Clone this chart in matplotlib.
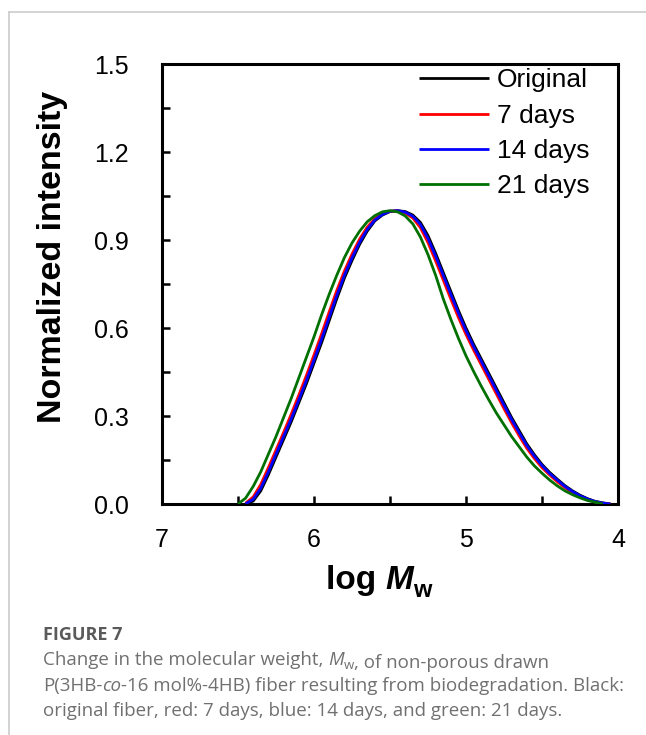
import numpy as np
import matplotlib
matplotlib.use('Agg')
from matplotlib import pyplot as plt
from matplotlib.lines import Line2D
from matplotlib.ticker import MultipleLocator

# log Mw grid (shared by all four curves)
log_mw = [6.50, 6.45, 6.40, 6.35, 6.30, 6.25, 6.20, 6.15, 6.10, 6.05,
          6.00, 5.95, 5.90, 5.85, 5.80, 5.75, 5.70, 5.65, 5.60, 5.55,
          5.50, 5.45, 5.40, 5.35, 5.30, 5.25, 5.20, 5.15, 5.10, 5.05,
          5.00, 4.95, 4.90, 4.85, 4.80, 4.75, 4.70, 4.65, 4.60, 4.55,
          4.50, 4.45, 4.40, 4.35, 4.30, 4.25, 4.20, 4.15, 4.10, 4.05,
          4.00]

nan = np.nan
original = [nan, 0.0, 0.010, 0.045, 0.100, 0.160, 0.220, 0.280, 0.345, 0.410,
            0.480, 0.550, 0.625, 0.700, 0.770, 0.830, 0.885, 0.930, 0.965, 0.985,
            0.997, 1.000, 0.997, 0.985, 0.960, 0.915, 0.855, 0.790, 0.725, 0.660,
            0.600, 0.545, 0.495, 0.445, 0.395, 0.345, 0.295, 0.250, 0.205, 0.168,
            0.135, 0.108, 0.085, 0.063, 0.045, 0.030, 0.018, 0.009, 0.004, 0.0,
            nan]
days_7 = [nan, 0.003, 0.024, 0.067, 0.124, 0.184, 0.244, 0.306, 0.371, 0.438,
          0.508, 0.580, 0.655, 0.728, 0.794, 0.852, 0.903, 0.944, 0.973, 0.990,
          0.998, 0.999, 0.992, 0.975, 0.942, 0.891, 0.829, 0.764, 0.699, 0.636,
          0.578, 0.525, 0.475, 0.425, 0.375, 0.325, 0.277, 0.232, 0.190, 0.155,
          0.124, 0.099, 0.076, 0.056, 0.039, 0.025, 0.014, 0.007, 0.002, 0.0,
          nan]
days_14 = [nan, 0.001, 0.016, 0.054, 0.110, 0.170, 0.230, 0.290, 0.355, 0.421,
           0.491, 0.562, 0.637, 0.711, 0.780, 0.839, 0.892, 0.936, 0.968, 0.987,
           0.998, 1.000, 0.995, 0.981, 0.953, 0.905, 0.845, 0.780, 0.715, 0.651,
           0.591, 0.537, 0.487, 0.437, 0.387, 0.337, 0.288, 0.243, 0.199, 0.163,
           0.131, 0.104, 0.082, 0.060, 0.043, 0.028, 0.017, 0.008, 0.003, 0.0,
           nan]
days_21 = [0.0, 0.020, 0.060, 0.110, 0.170, 0.230, 0.295, 0.360, 0.430, 0.500,
           0.570, 0.645, 0.715, 0.780, 0.840, 0.890, 0.930, 0.962, 0.983, 0.996,
           1.000, 0.996, 0.982, 0.955, 0.910, 0.850, 0.780, 0.700, 0.630, 0.565,
           0.505, 0.452, 0.402, 0.355, 0.310, 0.270, 0.230, 0.195, 0.160, 0.130,
           0.105, 0.082, 0.062, 0.045, 0.032, 0.021, 0.012, 0.006, 0.0, nan,
           nan]

labels = ['Original', '7 days', '14 days', '21 days']
colors = ['#000000', '#ff0000', '#0000ff', '#007000']

plt.rcParams['font.family'] = ['Liberation Sans', 'DejaVu Sans']

fig = plt.figure(figsize=(6.46, 7.35), dpi=100)
ax = fig.add_axes([162 / 646, 231 / 735, 456 / 646, 440 / 735])

for i, series in enumerate([original, days_7, days_14, days_21]):
    ax.plot(log_mw, series, color=colors[i], lw=2.0, label=labels[i],
            zorder=2 + i, solid_capstyle='butt')

ax.set_xlim(7, 4)
ax.set_ylim(0, 1.5)
ax.xaxis.set_minor_locator(MultipleLocator(0.5))
ax.yaxis.set_minor_locator(MultipleLocator(0.15))
ax.set_yticks([0.0, 0.3, 0.6, 0.9, 1.2, 1.5])
ax.set_yticklabels(['0.0', '0.3', '0.6', '0.9', '1.2', '1.5'])
ax.set_xticks([7, 6, 5, 4])
ax.set_xticklabels(['7', '6', '5', '4'])

ax.tick_params(which='both', direction='in', length=6, width=1.8,
               top=False, right=False, labelsize=18, colors='black')
ax.tick_params(axis='x', pad=17)
ax.tick_params(axis='y', pad=24)
for sp in ax.spines.values():
    sp.set_linewidth(2.2)

ax.legend(loc='upper left', bbox_to_anchor=(0.5636, 0.99), frameon=False,
          fontsize=19, handlelength=2.65, handletextpad=0.3,
          labelspacing=0.43, borderpad=0, borderaxespad=0)

# axis titles
fig.text(53 / 646, 1 - 257 / 735, 'Normalized intensity', rotation=90,
         ha='center', va='center', fontsize=24.5, fontweight='bold')


def chain(pieces, x, y):
    prev = None
    for txt, kw, dy in pieces:
        if prev is None:
            prev = fig.text(x, y, txt, ha='left', va='bottom', **kw)
        else:
            prev = ax.annotate(txt, xy=(1, 0), xycoords=prev,
                               xytext=(0, dy), textcoords='offset points',
                               ha='left', va='bottom', annotation_clip=False, **kw)
    return prev


chain([('log ', dict(fontsize=24, fontweight='bold'), 0),
       ('M', dict(fontsize=24, fontweight='bold', style='italic'), 0),
       ('w', dict(fontsize=17, fontweight='bold'), -4)],
      326 / 646, 1 - 596 / 735)

# caption
cap = dict(family=['Open Sans', 'DejaVu Sans'], fontsize=13.5, color='#707070')
capi = dict(cap, style='italic')
caps = dict(cap, fontsize=9.5)
fig.text(43 / 646, 1 - 644 / 735, 'FIGURE 7', family=['Open Sans', 'DejaVu Sans'],
         fontsize=13, fontweight='bold', color='#5a5a5a', ha='left', va='bottom')
chain([('Change in the molecular weight, ', cap, 0), ('M', capi, 0),
       ('w', caps, -2.5), (', of non-porous drawn', cap, 0)],
      43 / 646, 1 - 669 / 735)
chain([('P(3HB-', cap, 0), ('co', capi, 0),
       ('-16 mol%-4HB) fiber resulting from biodegradation. Black:', cap, 0)],
      43 / 646, 1 - 695 / 735)
chain([('original fiber, red: 7 days, blue: 14 days, and green: 21 days.', cap, 0)],
      43 / 646, 1 - 720 / 735)

# page frame
fig.add_artist(Line2D([9 / 646, 9 / 646], [0, 1 - 12 / 735], color='#cccccc', lw=1.2))
fig.add_artist(Line2D([9 / 646, 1], [1 - 12 / 735, 1 - 12 / 735], color='#cccccc', lw=1.2))

fig.savefig('out.png', dpi=100)
